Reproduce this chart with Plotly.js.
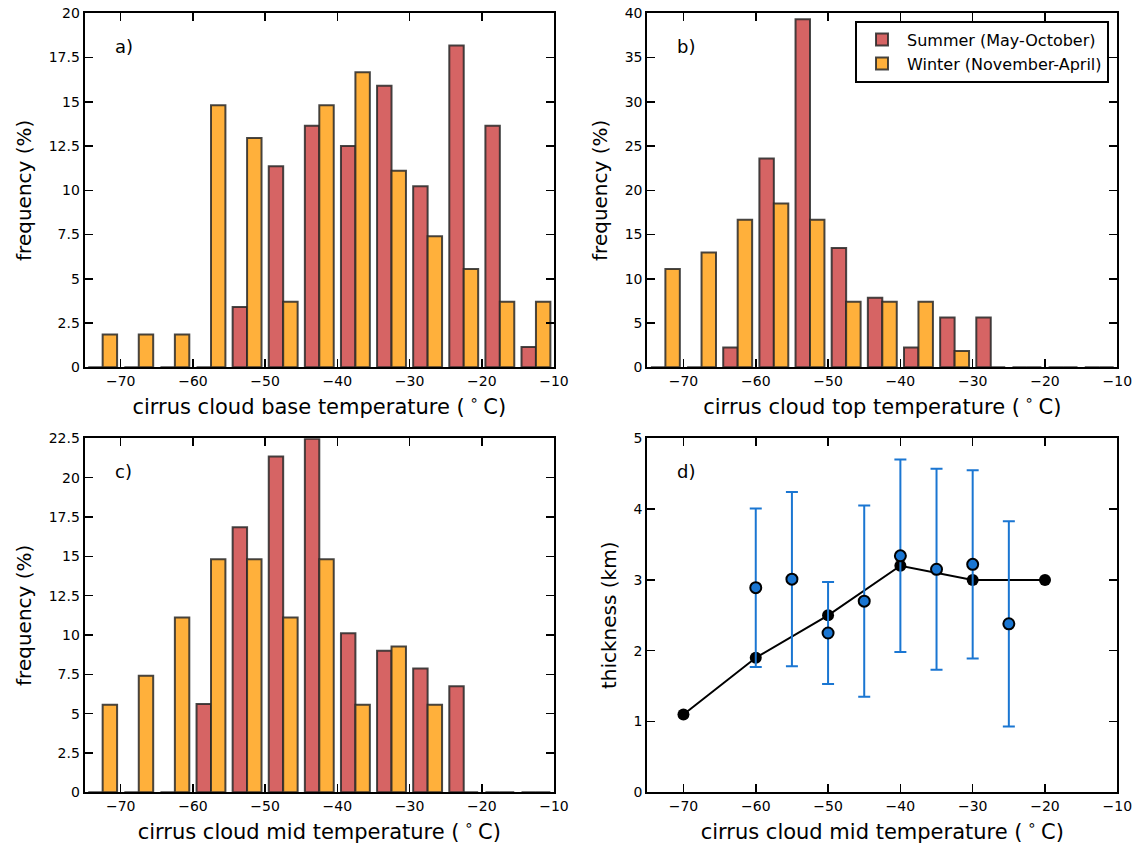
<!DOCTYPE html>
<html>
<head>
<meta charset="utf-8">
<script src="https://cdn.plot.ly/plotly-3.0.1.min.js"></script>
<style>html,body{margin:0;padding:0;background:#fff;}#chart{width:1140px;height:848px;}</style>
</head>
<body>
<div id="chart"></div>
<script>
// Bin centres (°C), bin width 5
const binCenters = [-72.5, -67.5, -62.5, -57.5, -52.5, -47.5, -42.5, -37.5, -32.5, -27.5, -22.5, -17.5, -12.5];

// a) cloud base temperature frequency (%)
const baseSummer = [0, 0, 0, 0, 3.41, 11.36, 13.64, 12.50, 15.91, 10.23, 18.18, 13.64, 1.14];
const baseWinter = [1.85, 1.85, 1.85, 14.81, 12.96, 3.70, 14.81, 16.67, 11.11, 7.41, 5.56, 3.70, 3.70];

// b) cloud top temperature frequency (%)
const topSummer = [0, 0, 2.25, 23.60, 39.33, 13.48, 7.87, 2.25, 5.62, 5.62, 0, 0, 0];
const topWinter = [11.11, 12.96, 16.67, 18.52, 16.67, 7.41, 7.41, 7.41, 1.85, 0, 0, 0, 0];

// c) cloud mid temperature frequency (%)
const midSummer = [0, 0, 0, 5.62, 16.85, 21.35, 22.47, 10.11, 8.99, 7.87, 6.74, 0, 0];
const midWinter = [5.56, 7.41, 11.11, 14.81, 14.81, 11.11, 14.81, 5.56, 9.26, 5.56, 0, 0, 0];

// d) thickness vs mid temperature
const lineTemp = [-70, -60, -50, -40, -30, -20];
const lineThick = [1.1, 1.9, 2.5, 3.2, 3.0, 3.0];
const ptTemp = [-60, -55, -50, -45, -40, -35, -30, -25];
const ptThick = [2.89, 3.01, 2.25, 2.70, 3.34, 3.15, 3.22, 2.38];
const ptErr = [1.12, 1.23, 0.72, 1.35, 1.36, 1.42, 1.33, 1.45];

const seriesNames = ['Summer (May-October)', 'Winter (November-April)'];
const DEG = '(<sup> ∘ </sup>C)';
const xTitles = ['cirrus cloud base temperature ' + DEG, 'cirrus cloud top temperature ' + DEG,
                 'cirrus cloud mid temperature ' + DEG, 'cirrus cloud mid temperature ' + DEG];
const yTitles = ['frequency (%)', 'frequency (%)', 'frequency (%)', 'thickness (km)'];
const panelLabels = ['a)', 'b)', 'c)', 'd)'];

const RED = '#d66464', ORANGE = '#ffb03b', EDGE = 'rgba(40,40,40,0.85)', BLUE = '#1a76d2';
const FONT = 'DejaVu Sans, sans-serif';

const data = [];
function addHist(summer, winter, xa, ya, legend) {
  data.push({type: 'bar', x: binCenters, y: summer, name: seriesNames[0], xaxis: xa, yaxis: ya,
    marker: {color: RED, line: {color: EDGE, width: 2}}, showlegend: legend, legendgroup: 's'});
  data.push({type: 'bar', x: binCenters, y: winter, name: seriesNames[1], xaxis: xa, yaxis: ya,
    marker: {color: ORANGE, line: {color: EDGE, width: 2}}, showlegend: legend, legendgroup: 'w'});
}
addHist(baseSummer, baseWinter, 'x', 'y', false);
addHist(topSummer, topWinter, 'x2', 'y2', true);
addHist(midSummer, midWinter, 'x3', 'y3', false);

data.push({type: 'scatter', mode: 'lines+markers', x: lineTemp, y: lineThick, xaxis: 'x4', yaxis: 'y4',
  line: {color: '#000', width: 2}, marker: {color: '#000', size: 12}, showlegend: false});
data.push({type: 'scatter', mode: 'markers', x: ptTemp, y: ptThick, xaxis: 'x4', yaxis: 'y4',
  marker: {color: BLUE, size: 11, line: {color: '#000', width: 2}},
  error_y: {type: 'data', array: ptErr, visible: true, color: BLUE, thickness: 2, width: 6},
  showlegend: false});

const W = 1140, H = 848;
const xDom = [[84.6 / W, 554 / W], [647.3 / W, 1117.3 / W]];
const yDom = [[(H - 367.3) / H, (H - 13.3) / H], [(H - 792.3) / H, (H - 438.3) / H]];
const yRanges = [[0, 20], [0, 40], [0, 22.5], [0, 5]];
const yDticks = [2.5, 5, 2.5, 1];

const layout = {
  width: W, height: H, margin: {l: 0, r: 0, t: 0, b: 0},
  paper_bgcolor: '#fff', plot_bgcolor: '#fff',
  font: {family: FONT, size: 14, color: '#000'},
  barmode: 'group', bargap: 0.2, bargroupgap: 0,
  showlegend: true,
  legend: {x: 1109 / W, y: (H - 20.7) / H, xanchor: 'right', yanchor: 'top',
    bgcolor: '#fff', bordercolor: '#000', borderwidth: 2, font: {size: 16, family: FONT},
    traceorder: 'normal', tracegroupgap: 0, itemwidth: 40},
  annotations: []
};

for (let i = 0; i < 4; i++) {
  const sfx = i === 0 ? '' : String(i + 1);
  const col = i % 2, row = Math.floor(i / 2);
  layout['xaxis' + sfx] = {
    domain: xDom[col], anchor: 'y' + sfx, range: [-75, -10], dtick: 10, tick0: -70,
    showgrid: false, zeroline: false, showline: true, linecolor: '#000', linewidth: 2, mirror: 'ticks',
    ticks: 'inside', ticklen: 8, tickwidth: 1.5, tickcolor: '#000',
    tickfont: {size: 14, family: FONT},
    title: {text: xTitles[i], font: {size: 21, family: FONT}, standoff: 11}
  };
  layout['yaxis' + sfx] = {
    domain: yDom[row], anchor: 'x' + sfx, range: yRanges[i], dtick: yDticks[i], tick0: 0,
    showgrid: false, zeroline: false, showline: true, linecolor: '#000', linewidth: 2, mirror: 'ticks',
    ticks: 'inside', ticklen: 8, tickwidth: 1.5, tickcolor: '#000',
    tickfont: {size: 14, family: FONT},
    title: {text: yTitles[i], font: {size: 20, family: FONT}, standoff: 12}
  };
  layout.annotations.push({
    xref: 'paper', yref: 'paper', x: (xDom[col][0] * W + 28) / W, y: yDom[row][1] - 33 / H,
    xanchor: 'left', yanchor: 'middle', text: panelLabels[i], showarrow: false,
    font: {size: 18, family: FONT}
  });
}

Plotly.newPlot('chart', data, layout, {displayModeBar: false, staticPlot: true});
</script>
</body>
</html>
